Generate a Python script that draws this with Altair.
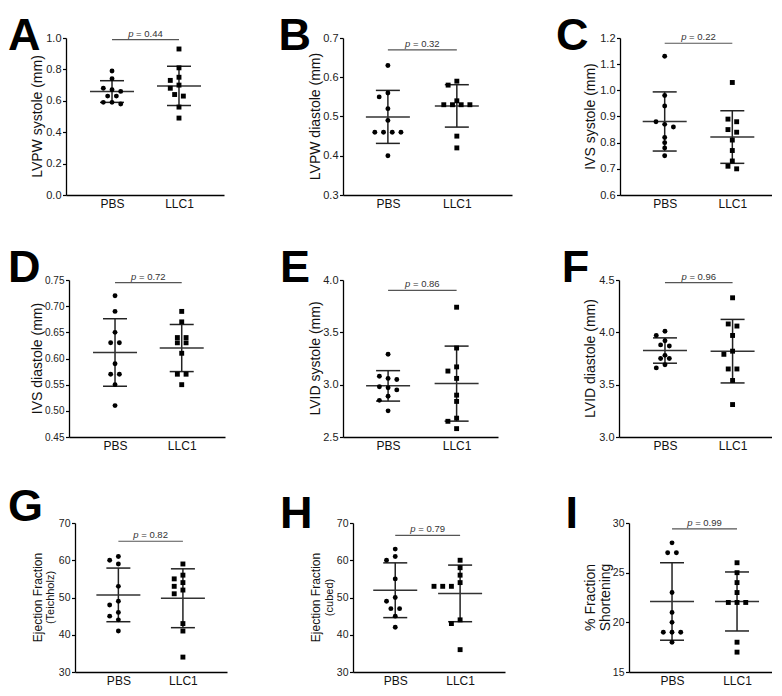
import altair as alt
import pandas as pd
import numpy as np

# ---------------- data ----------------
GROUPS = ["PBS", "LLC1"]
LETTERS = ["A", "B", "C", "D", "E", "F", "G", "H", "I"]
Y_TITLES = [["LVPW systole (mm)"], ["LVPW diastole (mm)"], ["IVS systole (mm)"],
            ["IVS diastole (mm)"], ["LVID systole (mm)"], ["LVID diastole (mm)"],
            ["Ejection Fraction", "(Teichholz)"], ["Ejection Fraction", "(cubed)"],
            ["% Fraction", "Shortening"]]
P_VALUES = ["0.44", "0.32", "0.22", "0.72", "0.86", "0.96", "0.82", "0.79", "0.99"]

PBS_VALUES = [
    [0.79, 0.74, 0.68, 0.67, 0.66, 0.63, 0.63, 0.59, 0.59, 0.58],
    [0.63, 0.56, 0.55, 0.52, 0.49, 0.46, 0.46, 0.46, 0.46, 0.40],
    [1.13, 0.98, 0.94, 0.88, 0.87, 0.86, 0.82, 0.80, 0.78, 0.75],
    [0.72, 0.69, 0.65, 0.63, 0.63, 0.59, 0.57, 0.57, 0.55, 0.51],
    [3.29, 3.08, 3.06, 3.05, 2.98, 2.97, 2.95, 2.89, 2.85, 2.75],
    [4.01, 3.97, 3.92, 3.88, 3.87, 3.78, 3.75, 3.75, 3.69, 3.66],
    [61, 60, 59, 53, 49, 48, 46, 45, 44, 41],
    [63, 61, 60, 55, 50, 49, 47, 47, 45, 42],
    [28, 27, 27, 23, 21, 20, 19, 19, 19, 18],
]
LLC1_VALUES = [
    [0.93, 0.81, 0.75, 0.73, 0.70, 0.68, 0.64, 0.63, 0.56, 0.49],
    [0.59, 0.58, 0.54, 0.53, 0.53, 0.53, 0.53, 0.45, 0.42],
    [1.03, 0.89, 0.88, 0.85, 0.84, 0.81, 0.77, 0.73, 0.71, 0.70],
    [0.69, 0.67, 0.64, 0.64, 0.63, 0.63, 0.61, 0.57, 0.57, 0.55],
    [3.74, 3.35, 3.17, 3.13, 3.06, 2.90, 2.84, 2.68, 2.65, 2.58],
    [4.33, 4.08, 4.06, 3.97, 3.82, 3.79, 3.65, 3.65, 3.54, 3.31],
    [59, 56, 55, 54, 53, 52, 51, 43, 41, 34],
    [60, 58, 56, 54, 53, 53, 53, 44, 43, 36],
    [26, 25, 24, 23, 22, 22, 22, 18, 17],
]
PBS_MEAN = [0.659, 0.499, 0.881, 0.6115, 2.9885, 3.826, 50.7, 51.95, 22.1]
PBS_SD = [0.069, 0.0675, 0.113, 0.0645, 0.1455, 0.121, 7.2, 7.35, 3.9]
LLC1_MEAN = [0.695, 0.527, 0.8215, 0.620, 3.01, 3.82, 49.8, 51.1, 22.1]
LLC1_SD = [0.125, 0.054, 0.1005, 0.045, 0.3585, 0.3035, 7.9, 7.6, 2.97]
BRACKET_Y = [0.99, 0.67, 1.18, 0.745, 3.9, 4.475, 65.1, 66.7, 29.4]

Y_DOMAINS = [[0, 1], [0.3, 0.7], [0.6, 1.2], [0.45, 0.75], [2.5, 4.0], [3.0, 4.5],
             [30, 70], [30, 70], [15, 30]]
Y_TICKS = [[0.0, 0.2, 0.4, 0.6, 0.8, 1.0], [0.3, 0.4, 0.5, 0.6, 0.7],
           [0.6, 0.7, 0.8, 0.9, 1.0, 1.1, 1.2],
           [0.45, 0.50, 0.55, 0.60, 0.65, 0.70, 0.75], [2.5, 3.0, 3.5, 4.0],
           [3.0, 3.5, 4.0, 4.5], [30, 40, 50, 60, 70], [30, 40, 50, 60, 70],
           [15, 20, 25, 30]]
Y_FORMATS = [".1f", ".1f", ".1f", ".2f", ".1f", ".1f", "d", "d", "d"]

# ---------------- layout / style ----------------
FONT = "Liberation Sans"
PANEL_W = [158, 169, 152, 156, 155, 153, 152, 152, 143]
ROW_H = [157, 157, 149]
X_DOMAIN = [[-0.687, 1.672], [-0.651, 1.80], [-0.661, 1.587],
            [-0.69, 1.649], [-0.658, 1.604], [-0.68, 1.583],
            [-0.672, 1.683], [-0.651, 1.692], [-0.662, 1.538]]
SPACERS = [[58, 119, 108], [61, 118, 121], [67, 126, 124]]
ROW_TOP_EXT = [30, 45, 45]     # invisible anchors that fix each row's extent
ROW_BOT_EXT = [20, 21, 0]
ROW_GAP = 20
LET_X = [-58, -64.6, -63.9, -61, -63, -57.3, -67, -73, -63.5]
LET_Y = [12, 12, 12, 2, 2, 2, -2.5, 5, 5]
TITLE_X = [[-28], [-27.5], [-29.5], [-31], [-27.5], [-28.5],
           [-37.5, -24], [-37, -23.5], [-38.5, -23.5]]
TITLE_SIZE = [[14], [14], [14], [14], [14], [14], [12, 11], [12, 11], [14, 14]]
LABEL_SIZE = [11, 11, 11, 10, 11, 11, 10.5, 10.5, 10.5]


def swarm(vals, px_per_y, d=8.7, D=5.0, r=3.0):
    vs = sorted(vals, reverse=True)
    rows = []
    for v in vs:
        if rows and (rows[-1][-1] - v) * px_per_y < r:
            rows[-1].append(v)
        else:
            rows.append([v])
    placed = []
    for row in rows:
        k = len(row)
        base = [(j - (k - 1) / 2) * d for j in range(k)]
        cand = None
        for s in [0, -d, d, -2 * d, 2 * d, -3 * d, 3 * d]:
            cand = [(b + s, v * px_per_y, v) for b, v in zip(base, row)]
            ok = all(np.hypot(cx - px, cy - py) >= D
                     for cx, cy, _ in cand for px, py, _ in placed)
            if ok:
                break
        placed.extend(cand)
    return [(v, cx) for cx, cy, v in placed]


def panel(i):
    w, h = PANEL_W[i], ROW_H[i // 3]
    xlo, xhi = X_DOMAIN[i]
    ylo, yhi = Y_DOMAINS[i]
    xs = alt.Scale(domain=[xlo, xhi], nice=False, zero=False)
    ys = alt.Scale(domain=[ylo, yhi], nice=False, zero=False)
    px_per_x = w / (xhi - xlo)
    px_per_y = h / (yhi - ylo)

    rows = []
    for g, vals in enumerate([PBS_VALUES[i], LLC1_VALUES[i]]):
        for v, off in swarm(vals, px_per_y):
            rows.append({"group": GROUPS[g], "x": g + off / px_per_x, "v": v})
    pts = pd.DataFrame(rows)

    means = [PBS_MEAN[i], LLC1_MEAN[i]]
    sds = [PBS_SD[i], LLC1_SD[i]]
    stats = pd.DataFrame({"group": GROUPS, "x": [0, 1], "mean": means,
                          "lo": [m - s for m, s in zip(means, sds)],
                          "hi": [m + s for m, s in zip(means, sds)]})
    caps = pd.DataFrame({"x": [0, 0, 1, 1],
                         "c": [stats.lo[0], stats.hi[0], stats.lo[1], stats.hi[1]]})
    br = pd.DataFrame({"x0": [0], "x1": [1], "xm": [0.5], "by": [BRACKET_Y[i]]})
    one = pd.DataFrame({"a": [0]})

    label_expr = f"datum.value == 0 ? '{GROUPS[0]}' : '{GROUPS[1]}'"
    xaxis = alt.Axis(values=[0, 1], labelExpr=label_expr, ticks=False, grid=False,
                     labelFontSize=12, labelPadding=3, labelColor="#111",
                     domainColor="black", domainWidth=1.3, labelFlush=False,
                     labelOverlap=False, labelBound=False, title=None)
    yaxis = alt.Axis(values=Y_TICKS[i], format=Y_FORMATS[i], grid=False,
                     tickSize=3.5, tickWidth=1.2, tickColor="black",
                     domainColor="black", domainWidth=1.3,
                     labelFontSize=LABEL_SIZE[i], labelColor="#222",
                     labelPadding=1.5, labelFlush=False, labelOverlap=False, title=None)

    def X(f):
        return alt.X(f, scale=xs, axis=xaxis, title=None)

    def Y(f):
        return alt.Y(f, scale=ys, axis=yaxis, title=None)

    points = alt.Chart(pts).mark_point(filled=True, opacity=1, color="black", size=24).encode(
        x=X("x:Q"), y=Y("v:Q"),
        shape=alt.Shape("group:N", scale=alt.Scale(domain=GROUPS, range=["circle", "square"]),
                        legend=None),
    )
    mean_t = alt.Chart(stats).mark_tick(orient="horizontal", size=44, thickness=1.5,
                                        color="#333", opacity=1).encode(x=X("x:Q"), y=Y("mean:Q"))
    sd_r = alt.Chart(stats).mark_rule(color="#222", strokeWidth=1.5).encode(
        x=X("x:Q"), y=Y("lo:Q"), y2="hi:Q")
    cap_t = alt.Chart(caps).mark_tick(orient="horizontal", size=24, thickness=1.5,
                                      color="#222", opacity=1).encode(x=X("x:Q"), y=Y("c:Q"))
    bracket = alt.Chart(br).mark_rule(color="#555", strokeWidth=1.2).encode(
        x=X("x0:Q"), x2="x1:Q", y=Y("by:Q"))
    p_it = alt.Chart(br).mark_text(text="p", fontStyle="italic", fontSize=9.5, align="left",
                                   baseline="alphabetic", dx=-17.3, dy=-3, color="#333").encode(
        x=X("xm:Q"), y=Y("by:Q"))
    p_rest = alt.Chart(br).mark_text(text=f"= {P_VALUES[i]}", fontSize=9.5, align="left",
                                     baseline="alphabetic", dx=-9.4, dy=-3, color="#333").encode(
        x=X("xm:Q"), y=Y("by:Q"))
    letter = alt.Chart(one).mark_text(text=LETTERS[i], fontSize=45, fontWeight="bold",
                                      align="left", baseline="alphabetic", color="black").encode(
        x=alt.value(LET_X[i]), y=alt.value(LET_Y[i]))
    layers = [bracket, p_it, p_rest, sd_r, mean_t, cap_t, points, letter]
    for j, line in enumerate(Y_TITLES[i]):
        layers.append(alt.Chart(one).mark_text(text=line, angle=270, fontSize=TITLE_SIZE[i][j],
                                               align="center", baseline="middle", color="#111").encode(
            x=alt.value(TITLE_X[i][j]), y=alt.value(h / 2)))
    return alt.layer(*layers).properties(width=w, height=h)


def spacer(w, h, top=None, bottom=None):
    base = alt.Chart(pd.DataFrame({"a": [0]}))
    if top is None:
        return base.mark_point(opacity=0, size=0).encode(
            x=alt.value(0), y=alt.value(0)).properties(width=w, height=h)
    return base.mark_rule(opacity=0, strokeWidth=0).encode(
        x=alt.value(0), y=alt.value(-top), y2=alt.value(h + bottom)).properties(width=w, height=h)


rows = []
for r in range(3):
    cells = []
    for c in range(3):
        i = r * 3 + c
        if c == 0:
            cells.append(spacer(SPACERS[r][c], ROW_H[r], ROW_TOP_EXT[r], ROW_BOT_EXT[r]))
        else:
            cells.append(spacer(SPACERS[r][c], ROW_H[r]))
        cells.append(panel(i))
    rows.append(alt.hconcat(*cells, spacing=0, bounds="flush"))

chart = alt.vconcat(*rows, spacing=ROW_GAP).properties(
    padding={"top": 0, "left": 0, "right": 0, "bottom": 0}
).configure(font=FONT).configure_view(stroke=None).configure_axis(grid=False)

chart.save("out.html", embed_options={"renderer": "svg", "actions": False})
